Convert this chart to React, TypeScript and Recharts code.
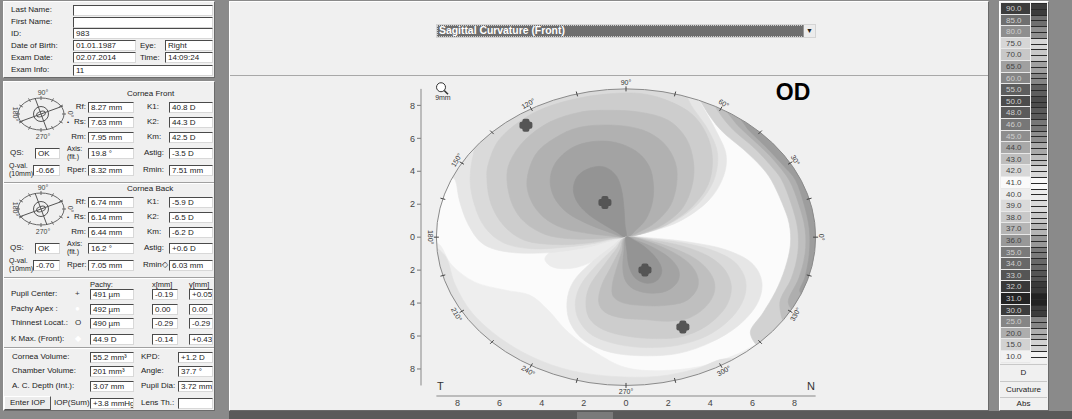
import React from 'react';
import { ScatterChart, Scatter, XAxis, YAxis } from 'recharts';

const FONT = "'Liberation Sans', Arial, sans-serif";

// map axes, in mm
const X_DOMAIN: [number, number] = [-9.73, 9.73];
const Y_DOMAIN: [number, number] = [-9.64, 9.6];
const X_TICKS = [-8, -6, -4, -2, 0, 2, 4, 6, 8];
const Y_TICKS = [-8, -6, -4, -2, 0, 2, 4, 6, 8];
const RIM_R = 9;
const RIM_TICK_ANGLES = [0, 15, 30, 45, 60, 75, 90, 105, 120, 135, 150, 165, 180, 195, 210, 225, 240, 255, 270, 285, 300, 315, 330, 345];
const RIM_LABEL_ANGLES = [0, 30, 60, 90, 120, 150, 180, 210, 240, 270, 300, 330];
const FRAME = [{ x: 0, y: 0 }, { x: RIM_R, y: RIM_R }];

// contour bands (x, y in mm)
const BL_1 = [[-8.83, -0.48], [-8.26, -1.7], [-7.17, -2.73], [-5.75, -3.21], [-4.56, -3.52], [-3.7, -4.42], [-2.75, -5.76], [-1.47, -6.97], [-0.05, -7.9], [1.61, -8.1], [3.51, -7.85], [5.18, -7.15], [6.36, -6.42], [6.6, -6.7], [4.0, -8.6], [1.0, -9.4], [-2.2, -9.2], [-5.2, -7.8], [-7.6, -5.3], [-8.9, -2.6], [-9.4, -0.3]];
const BL_2 = [[-9.3, -0.5], [-8.55, -1.2], [-8.1, -2.9], [-7.3, -4.6], [-6.0, -6.1], [-4.4, -7.3], [-2.6, -8.1], [-0.6, -8.45], [1.5, -8.45], [3.3, -8.0], [4.6, -7.4], [5.6, -7.6], [3.2, -8.9], [0, -9.45], [-3.2, -8.9], [-6.0, -7.1], [-8.0, -4.7], [-9.2, -1.6]];
const TONGUE = [[0, 0], [-1.2, -0.3], [-2.5, -0.55], [-3.5, -0.85], [-3.85, -1.35], [-3.4, -1.85], [-2.4, -1.85], [-1.3, -1.3], [-0.45, -0.5]];
const TL_1 = [[0, 0], [1.2, 0.35], [2.6, 1.0], [3.9, 2.2], [4.6, 3.6], [4.75, 5.0], [4.3, 6.4], [3.6, 8.0], [3.0, 9.3], [1.2, 9.45], [-1.5, 9.35], [-4.0, 8.5], [-6.1, 7.0], [-7.6, 5.2], [-8.5, 4.0], [-8.1, 3.45], [-7.9, 2.2], [-7.5, 0.8], [-6.8, -0.4], [-5.6, -0.9], [-3.8, -0.95], [-2.0, -0.65], [-0.8, -0.25]];
const TL_2 = [[0, 0], [1.0, 0.3], [2.2, 0.9], [3.4, 2.0], [4.15, 3.4], [4.35, 5.0], [3.95, 6.4], [3.2, 7.8], [2.3, 9.3], [0, 9.45], [-3.0, 9.0], [-5.4, 7.7], [-6.9, 6.1], [-7.25, 5.0], [-7.4, 3.45], [-7.2, 2.0], [-6.7, 0.6], [-5.8, -0.35], [-4.5, -0.7], [-3.0, -0.62], [-1.5, -0.38], [-0.6, -0.1]];
const TL_3 = [[0, 0], [0.9, 0.25], [2.0, 0.8], [3.1, 1.8], [3.9, 3.2], [4.1, 4.8], [3.8, 6.3], [3.0, 7.6], [1.5, 8.5], [0, 8.75], [-2.2, 8.45], [-4.3, 7.6], [-5.9, 6.1], [-6.5, 4.6], [-6.6, 3.45], [-6.4, 2.0], [-5.8, 0.7], [-4.8, -0.2], [-3.3, -0.45], [-1.8, -0.35], [-0.7, -0.1]];
const TL_4 = [[0, 0], [0.8, 0.25], [1.8, 0.8], [2.7, 1.8], [3.15, 3.2], [3.2, 4.6], [2.85, 6.0], [2.0, 7.1], [0.6, 7.6], [-1.0, 7.7], [-2.2, 7.58], [-3.6, 7.0], [-4.8, 5.9], [-5.5, 4.6], [-5.65, 3.45], [-5.4, 2.0], [-4.8, 0.9], [-3.8, 0.15], [-2.6, -0.1], [-1.4, -0.1], [-0.5, 0]];
const TL_5 = [[0, 0], [0.6, 0.3], [1.4, 0.9], [2.1, 1.9], [2.4, 3.2], [2.35, 4.5], [1.8, 5.7], [0.8, 6.5], [-0.6, 6.8], [-2.2, 6.67], [-3.4, 6.0], [-4.3, 5.0], [-4.7, 3.45], [-4.5, 2.2], [-3.9, 1.2], [-3.0, 0.55], [-1.9, 0.25], [-0.8, 0.08]];
const TL_6 = [[0, 0], [0.45, 0.4], [0.95, 1.1], [1.25, 2.1], [1.3, 3.2], [1.1, 4.3], [0.5, 5.2], [-0.5, 5.75], [-1.6, 5.8], [-2.6, 5.4], [-3.35, 4.5], [-3.6, 3.45], [-3.4, 2.4], [-2.8, 1.5], [-1.9, 0.85], [-0.9, 0.35]];
const TL_7 = [[0, 0], [-0.05, 0.8], [-0.1, 1.8], [-0.2, 2.8], [-0.45, 3.7], [-1.0, 4.25], [-1.7, 4.2], [-2.3, 3.7], [-2.5, 2.9], [-2.3, 2.1], [-1.8, 1.4], [-1.1, 0.8], [-0.5, 0.35]];
const BR_1 = [[0, 0], [-0.7, -0.6], [-1.7, -1.6], [-2.5, -2.7], [-2.8, -3.9], [-2.65, -5.2], [-1.95, -6.3], [-0.7, -7.0], [0.9, -7.2], [2.5, -7.05], [4.0, -6.4], [5.3, -5.4], [6.2, -4.1], [6.45, -2.75], [5.95, -1.55], [4.7, -0.75], [3.1, -0.32], [1.5, -0.08]];
const BR_2 = [[0, 0], [-0.55, -0.65], [-1.4, -1.7], [-2.1, -2.8], [-2.4, -3.9], [-2.25, -5.0], [-1.6, -5.95], [-0.4, -6.5], [1.0, -6.7], [2.5, -6.55], [3.9, -5.95], [5.0, -4.9], [5.6, -3.7], [5.65, -2.5], [5.1, -1.45], [4.0, -0.75], [2.6, -0.33], [1.2, -0.1]];
const BR_3 = [[0, 0], [-0.45, -0.7], [-1.1, -1.8], [-1.7, -2.9], [-1.9, -3.9], [-1.75, -4.9], [-1.1, -5.6], [0, -6.0], [1.3, -6.15], [2.6, -6.05], [3.8, -5.4], [4.7, -4.3], [5.0, -3.1], [4.7, -2.0], [3.9, -1.15], [2.7, -0.55], [1.3, -0.18]];
const BR_4 = [[0, 0], [-0.3, -0.8], [-0.75, -1.9], [-1.15, -2.9], [-1.3, -3.9], [-1.0, -4.55], [-0.2, -4.9], [0.9, -5.0], [2.0, -5.1], [3.0, -4.9], [3.8, -4.2], [4.2, -3.3], [4.1, -2.4], [3.5, -1.5], [2.5, -0.8], [1.2, -0.25]];
const BR_5 = [[0, 0], [-0.2, -0.9], [-0.45, -1.9], [-0.65, -2.9], [-0.6, -3.6], [-0.1, -4.0], [0.8, -4.15], [1.8, -4.15], [2.8, -3.9], [3.35, -3.2], [3.4, -2.4], [3.0, -1.6], [2.2, -0.9], [1.1, -0.3]];
const BR_6 = [[0, 0], [-0.1, -0.9], [-0.15, -1.9], [0, -2.7], [0.45, -3.2], [1.2, -3.4], [1.95, -3.25], [2.45, -2.7], [2.5, -2.0], [2.1, -1.3], [1.4, -0.7], [0.6, -0.25]];
const BR_7 = [[0, 0], [0.05, -0.9], [0.15, -1.8], [0.45, -2.5], [1.0, -2.8], [1.5, -2.6], [1.7, -2.0], [1.45, -1.3], [0.9, -0.6], [0.4, -0.2]];
const R_1 = [[3.4, 8.9], [3.7, 7.9], [4.5, 6.5], [5.6, 5.3], [6.4, 4.3], [6.9, 3.45], [7.4, 2.1], [7.75, 0.8], [7.8, -0.5], [7.55, -1.9], [7.1, -3.3], [6.5, -4.6], [5.9, -5.8], [6.6, -6.7], [8.0, -4.9], [9.1, -2.2], [9.4, 0.5], [9.0, 2.9], [7.9, 5.1], [6.0, 7.3], [4.6, 8.4]];
const R_2 = [[4.1, 8.4], [4.45, 7.5], [5.1, 6.5], [6.1, 5.4], [6.9, 4.3], [7.4, 3.45], [7.85, 2.0], [8.15, 0.5], [8.15, -1.0], [7.85, -2.5], [7.3, -4.0], [7.7, -5.4], [8.7, -3.4], [9.35, -0.8], [9.2, 2.0], [8.3, 4.4], [6.6, 6.6], [5.2, 7.8]];
const R_3 = [[4.7, 8.0], [5.1, 7.1], [5.55, 6.48], [6.3, 5.6], [7.0, 4.7], [7.75, 3.45], [8.2, 2.0], [8.5, 0.5], [8.5, -1.0], [8.2, -2.5], [7.7, -3.9], [8.2, -4.4], [9.05, -2.2], [9.35, 0.3], [9.1, 2.4], [8.1, 4.7], [6.6, 6.7]];
const R_4 = [[5.3, 7.6], [5.65, 6.8], [5.9, 6.4], [6.7, 5.4], [7.5, 4.3], [8.05, 3.45], [8.45, 2.0], [8.7, 0.5], [8.7, -1.0], [8.5, -2.4], [8.25, -3.3], [8.8, -3.5], [9.35, -1.0], [9.3, 1.5], [8.5, 4.0], [7.2, 6.1]];

const BAND_NAMES = ['bl1', 'bl2', 'tongue', 'tl1', 'tl2', 'tl3', 'tl4', 'tl5', 'tl6', 'tl7', 'br1', 'br2', 'br3', 'br4', 'br5', 'br6', 'br7', 'r1', 'r2', 'r3', 'r4'];
const BAND_COLORS = ['#eeeeee', '#e2e2e2', '#ececec', '#e6e6e6', '#dadada', '#cdcdcd', '#bfbfbf', '#b1b1b1', '#a3a3a3', '#949494', '#e6e6e6', '#dadada', '#cdcdcd', '#bfbfbf', '#b1b1b1', '#a3a3a3', '#949494', '#d2d2d2', '#bfbfbf', '#aeaeae', '#9d9d9d'];
const BAND_POINTS = [BL_1, BL_2, TONGUE, TL_1, TL_2, TL_3, TL_4, TL_5, TL_6, TL_7, BR_1, BR_2, BR_3, BR_4, BR_5, BR_6, BR_7, R_1, R_2, R_3, R_4];

const MARKERS = [{ x: -4.75, y: 6.8 }, { x: -1.0, y: 2.1 }, { x: 0.9, y: -2.0 }, { x: 2.7, y: -5.45 }];

const ANNOTATIONS = [
  { x: -8.78, y: 9.1, kind: 'lens', text: '' },
  { x: -8.69, y: 8.48, kind: 'text', text: '9mm', size: 7, anchor: 'middle' },
  { x: 7.93, y: 8.8, kind: 'text', text: 'OD', size: 23, anchor: 'middle' },
  { x: -8.97, y: -9.03, kind: 'text', text: 'T', size: 11, anchor: 'start' },
  { x: 8.97, y: -9.03, kind: 'text', text: 'N', size: 11, anchor: 'end' },
];

// colour scale on the right
const SCALE_LABELS = ['90.0', '85.0', '80.0', '75.0', '70.0', '65.0', '60.0', '55.0', '50.0', '48.0', '46.0', '45.0', '44.0', '43.0', '42.0', '41.0', '40.0', '39.0', '38.0', '37.0', '36.0', '35.0', '34.0', '33.0', '32.0', '31.0', '30.0', '25.0', '20.0', '15.0', '10.0'];
const SCALE_COLORS = ['#3d3d3d', '#6f6f6f', '#8e8e8e', '#d6d6d6', '#c8c8c8', '#a0a0a0', '#858585', '#5e5e5e', '#4c4c4c', '#5a5a5a', '#777777', '#8e8e8e', '#a8a8a8', '#bebebe', '#d8d8d8', '#fafafa', '#ededed', '#dadada', '#c8c8c8', '#b5b5b5', '#989898', '#7a7a7a', '#686868', '#555555', '#393939', '#232323', '#3c3c3c', '#858585', '#adadad', '#d2d2d2', '#f2f2f2'];

// left panel content
const PATIENT_LABELS: [string, number, number][] = [
  ['Last Name:', 11, 10], ['First Name:', 11, 22], ['ID:', 11, 33.5], ['Date of Birth:', 11, 45.5],
  ['Exam Date:', 11, 57.5], ['Exam Info:', 11, 70], ['Eye:', 140, 45.5], ['Time:', 140, 57.5],
];
const PATIENT_FIELDS: [string, number, number, number][] = [
  ['', 73, 10, 140], ['', 73, 22, 140], ['983', 73, 33.5, 140], ['01.01.1987', 73, 45.5, 63],
  ['Right', 165, 45.5, 48], ['02.07.2014', 73, 57.5, 63], ['14:09:24', 165, 57.5, 48], ['11', 73, 70, 140],
];
const FRONT_VALUES = ['8.27 mm', '7.63 mm', '7.95 mm', '40.8 D', '44.3 D', '42.5 D', 'OK', '19.8 °', '-3.5 D', '-0.66', '8.32 mm', '7.51 mm'];
const BACK_VALUES = ['6.74 mm', '6.14 mm', '6.44 mm', '-5.9 D', '-6.5 D', '-6.2 D', 'OK', '16.2 °', '+0.6 D', '-0.70', '7.05 mm', '6.03 mm'];
const PACHY_ROWS = ['Pupil Center:', 'Pachy Apex :', 'Thinnest Locat.:', 'K Max. (Front):'];
const PACHY_ICONS = ['+', '●', 'O', '◆'];
const PACHY_ICON_COLORS = ['#333', '#fff', '#333', '#fff'];
const PACHY_VALUES = ['491 µm', '492 µm', '490 µm', '44.9 D'];
const PACHY_X = ['-0.19', '0.00', '-0.29', '-0.14'];
const PACHY_Y = ['+0.05', '0.00', '-0.29', '+0.43'];
const VOLUME_ROWS = ['Cornea Volume:', 'Chamber Volume:', 'A. C. Depth (Int.):'];
const VOLUME_VALUES = ['55.2 mm³', '201 mm³', '3.07 mm'];
const EXTRA_LABELS = ['KPD:', 'Angle:', 'Pupil Dia:'];
const EXTRA_VALUES = ['+1.2 D', '37.7 °', '3.72 mm'];

const toPts = (a: number[][]) => a.map(([x, y]) => ({ x, y }));

function closedPath(pts: { x: number; y: number }[]) {
  const n = pts.length;
  let d = `M${pts[0].x},${pts[0].y}`;
  for (let i = 0; i < n; i++) {
    const p0 = pts[(i - 1 + n) % n];
    const p1 = pts[i];
    const p2 = pts[(i + 1) % n];
    const p3 = pts[(i + 2) % n];
    const c1x = p1.x + (p2.x - p0.x) / 6;
    const c1y = p1.y + (p2.y - p0.y) / 6;
    const c2x = p2.x - (p3.x - p1.x) / 6;
    const c2y = p2.y - (p3.y - p1.y) / 6;
    d += `C${c1x},${c1y},${c2x},${c2y},${p2.x},${p2.y}`;
  }
  return d + 'Z';
}

const NoDot = () => <g />;

function geom(points: { x: number; y: number }[]) {
  const c = points[0];
  const e = points[1];
  const kx = (e.x - c.x) / RIM_R;
  const ky = (c.y - e.y) / RIM_R;
  return {
    cx: c.x, cy: c.y, rx: RIM_R * kx, ry: RIM_R * ky,
    px: (x: number) => c.x + x * kx,
    py: (y: number) => c.y - y * ky,
  };
}

function FrameBack(props: any) {
  const g = geom(props.points);
  return <ellipse cx={g.cx} cy={g.cy} rx={g.rx} ry={g.ry} fill="#fbfbfb" />;
}

function FrameFront(props: any) {
  const g = geom(props.points);
  const L = g.px(X_DOMAIN[0]);
  const R = g.px(X_DOMAIN[1]);
  const T = g.py(Y_DOMAIN[1]);
  const B = g.py(Y_DOMAIN[0]);
  const mask =
    `M${L},${T}H${R}V${B}H${L}Z` +
    `M${g.cx + g.rx},${g.cy}A${g.rx},${g.ry} 0 1 0 ${g.cx - g.rx},${g.cy}A${g.rx},${g.ry} 0 1 0 ${g.cx + g.rx},${g.cy}Z`;
  return (
    <g>
      <path d={mask} fill="#f0f0f0" fillRule="evenodd" />
      <ellipse cx={g.cx} cy={g.cy} rx={g.rx} ry={g.ry} fill="none" stroke="#8a8a8a" strokeWidth={1} />
      {RIM_TICK_ANGLES.map((a) => {
        const t = (a * Math.PI) / 180;
        const x = g.cx + g.rx * Math.cos(t);
        const y = g.cy - g.ry * Math.sin(t);
        const dx = Math.cos(t) * 2.5;
        const dy = -Math.sin(t) * 2.5;
        return <line key={a} x1={x - dx} y1={y - dy} x2={x + dx} y2={y + dy} stroke="#444" strokeWidth={1} />;
      })}
      {RIM_LABEL_ANGLES.map((a) => {
        const t = (a * Math.PI) / 180;
        const x = g.cx + g.rx * Math.cos(t) + Math.cos(t) * 6;
        const y = g.cy - g.ry * Math.sin(t) - Math.sin(t) * 6;
        const rot = a < 180 ? 90 - a : 270 - a;
        return (
          <text key={a} x={x} y={y} fontSize={7} fill="#333" fontFamily={FONT} textAnchor="middle" dominantBaseline="central" transform={`rotate(${rot} ${x} ${y})`}>
            {`${a}°`}
          </text>
        );
      })}
      <line x1={L} y1={g.py(-RIM_R)} x2={L} y2={g.py(RIM_R)} stroke="#888" />
      <line x1={g.px(-RIM_R)} y1={B} x2={g.px(RIM_R)} y2={B} stroke="#888" />
    </g>
  );
}

function Marker(p: any) {
  const { cx, cy } = p;
  return (
    <g fill="#555">
      <rect x={cx - 6.5} y={cy - 3.5} width={13} height={7} rx={2} />
      <rect x={cx - 3.5} y={cy - 6.5} width={7} height={13} rx={2} />
      <circle cx={cx} cy={cy} r={5} />
    </g>
  );
}

function Annotation(p: any) {
  const { cx, cy, payload } = p;
  if (payload.kind === 'lens') {
    return (
      <g stroke="#333" fill="none">
        <circle cx={cx} cy={cy} r={4.5} fill="#fff" />
        <line x1={cx + 3.2} y1={cy + 3.2} x2={cx + 7} y2={cy + 7} strokeWidth={1.5} />
      </g>
    );
  }
  const od = payload.text === 'OD';
  return (
    <text x={cx} y={cy} fontSize={payload.size} fontFamily={FONT} fontWeight={od ? 'bold' : 'normal'} fill={od ? '#000' : '#333'} textAnchor={payload.anchor} dominantBaseline="central">
      {payload.text}
    </text>
  );
}

function MapChart() {
  const tick = { fontSize: 9, fill: '#444', fontFamily: FONT };
  return (
    <ScatterChart width={759} height={340} margin={{ top: 9, right: 157, bottom: 0, left: 168 }}>
      <XAxis type="number" dataKey="x" domain={X_DOMAIN} ticks={X_TICKS} interval={0} height={14}
        tickFormatter={(v: number) => String(Math.abs(v))} axisLine={false} tickLine={false}
        tickSize={2} tickMargin={2} tick={tick} />
      <YAxis type="number" dataKey="y" domain={Y_DOMAIN} ticks={Y_TICKS} interval={0} width={24}
        tickFormatter={(v: number) => String(Math.abs(v))} axisLine={false}
        tickLine={{ stroke: '#777' }} tickSize={4} tickMargin={2} tick={tick} />
      <Scatter data={FRAME} shape={NoDot} line={FrameBack} isAnimationActive={false} />
      {BAND_NAMES.map((name, i) => (
        <Scatter
          key={name}
          name={name}
          data={toPts(BAND_POINTS[i])}
          shape={NoDot}
          line={(p: any) => <path d={closedPath(p.points)} fill={BAND_COLORS[i]} stroke={BAND_COLORS[i]} strokeWidth={0.6} />}
          isAnimationActive={false}
        />
      ))}
      <Scatter data={FRAME} shape={NoDot} line={FrameFront} isAnimationActive={false} />
      <Scatter data={MARKERS} shape={Marker} isAnimationActive={false} />
      <Scatter data={ANNOTATIONS} shape={Annotation} isAnimationActive={false} />
    </ScatterChart>
  );
}

function Field({ x, y, w, v }: { x: number; y: number; w: number; v: string }) {
  return (
    <div style={{
      position: 'absolute', left: x, top: y - 5.5, width: w, height: 11, background: '#fff',
      borderTop: '1px solid #4a4a4a', borderLeft: '1px solid #4a4a4a', borderBottom: '1px solid #d8d8d8',
      borderRight: '1px solid #d8d8d8', boxSizing: 'border-box', fontSize: 8, lineHeight: '9px',
      paddingLeft: 2, whiteSpace: 'nowrap', overflow: 'hidden', color: '#222',
    }}>{v}</div>
  );
}

function Label({ x, y, t, size = 8, color = '#222', right }: { x: number; y: number; t: string; size?: number; color?: string; right?: boolean }) {
  return (
    <div style={{
      position: 'absolute', left: right ? undefined : x, right: right ? 1072 - x : undefined, top: y - 5,
      fontSize: size, lineHeight: '10px', whiteSpace: 'nowrap', color,
    }}>{t}</div>
  );
}

function Compass({ x, y }: { x: number; y: number }) {
  const cx = 31;
  const cy = 32;
  return (
    <svg style={{ position: 'absolute', left: x, top: y }} width={64} height={64}>
      <ellipse cx={cx} cy={cy} rx={23} ry={16} fill="none" stroke="#666" />
      {[0, 30, 60, 90, 120, 150, 180, 210, 240, 270, 300, 330].map((a) => {
        const t = (a * Math.PI) / 180;
        return <line key={a} x1={cx + 21 * Math.cos(t)} y1={cy - 14 * Math.sin(t)} x2={cx + 25 * Math.cos(t)} y2={cy - 18 * Math.sin(t)} stroke="#666" />;
      })}
      <circle cx={cx} cy={cy} r={7.5} fill="none" stroke="#555" />
      <ellipse cx={cx} cy={cy} rx={4.5} ry={2.5} fill="none" stroke="#555" transform={`rotate(-20 ${cx} ${cy})`} />
      <line x1={cx - 22} y1={cy + 8} x2={cx + 22} y2={cy - 8} stroke="#555" />
      <line x1={cx - 6} y1={cy - 16} x2={cx + 6} y2={cy + 16} stroke="#555" />
      <text x={cx + 2} y={cy - 19} fontSize={7} fill="#444" textAnchor="middle" fontFamily={FONT}>90°</text>
      <text x={cx + 2} y={cy + 25} fontSize={7} fill="#444" textAnchor="middle" fontFamily={FONT}>270°</text>
      <text x={3} y={cy} fontSize={7} fill="#444" textAnchor="middle" fontFamily={FONT} transform={`rotate(90 3 ${cy})`}>180°</text>
      <text x={58} y={cy} fontSize={7} fill="#444" textAnchor="middle" fontFamily={FONT} transform={`rotate(90 58 ${cy})`}>0°</text>
    </svg>
  );
}

function CorneaBlock({ top, title, titleX, values, rmin }: { top: number; title: string; titleX: number; values: string[]; rmin: string }) {
  const rows = [top + 13, top + 28, top + 43];
  const qs = top + 59;
  const qv = top + 76;
  return (
    <>
      <Compass x={10} y={top - 12} />
      <Label x={titleX} y={top} t={title} />
      {['Rf:', 'Rs:', 'Rm:'].map((t, i) => <Label key={t} x={86} y={rows[i]} t={t} right />)}
      <Label x={67} y={rows[1]} t="•" size={6} />
      {['K1:', 'K2:', 'Km:'].map((t, i) => <Label key={t} x={147} y={rows[i]} t={t} />)}
      {rows.map((r, i) => <Field key={'a' + i} x={88} y={r} w={46} v={values[i]} />)}
      {rows.map((r, i) => <Field key={'b' + i} x={169} y={r} w={44} v={values[3 + i]} />)}
      <Label x={10} y={qs} t="QS:" />
      <Field x={35} y={qs} w={25} v={values[6]} />
      <Label x={67} y={qs - 4} t="Axis:" size={7} />
      <Label x={67} y={qs + 4} t="(flt.)" size={7} />
      <Field x={88} y={qs} w={46} v={values[7]} />
      <Label x={144} y={qs} t="Astig:" />
      <Field x={169} y={qs} w={44} v={values[8]} />
      <Label x={9} y={qv - 4} t="Q-val." size={7} />
      <Label x={9} y={qv + 4} t="(10mm)" size={7} />
      <Field x={33} y={qv} w={27} v={values[9]} />
      <Label x={67} y={qv} t="Rper:" />
      <Field x={88} y={qv} w={46} v={values[10]} />
      <Label x={143} y={qv} t={rmin} />
      <Field x={169} y={qv} w={44} v={values[11]} />
    </>
  );
}

const groove = (y: number) => (
  <div key={y} style={{ position: 'absolute', left: 4, top: y, width: 210, height: 1, background: '#a0a0a0', borderBottom: '1px solid #fff' }} />
);

const box: React.CSSProperties = {
  position: 'absolute', background: '#f0f0f0', boxSizing: 'border-box',
  borderTop: '1px solid #fff', borderLeft: '1px solid #fff', borderBottom: '1px solid #6a6a6a', borderRight: '1px solid #6a6a6a',
};

function LeftPanel() {
  const pachyRows = [294, 309, 323, 339];
  const volRows = [357, 371, 386];
  return (
    <>
      <div style={{ ...box, left: 3, top: 1, width: 212, height: 77 }} />
      {PATIENT_LABELS.map(([t, x, y]) => <Label key={t} x={x} y={y} t={t} />)}
      {PATIENT_FIELDS.map(([v, x, y, w], i) => <Field key={i} x={x} y={y} w={w} v={v} />)}
      <div style={{ ...box, left: 3, top: 81, width: 212, height: 330 }} />
      <CorneaBlock top={94} title="Cornea Front" titleX={127} values={FRONT_VALUES} rmin="Rmin:" />
      {groove(182)}
      <CorneaBlock top={189} title="Cornea Back" titleX={127} values={BACK_VALUES} rmin="Rmin◇" />
      {groove(277)}
      <Label x={90} y={285} t="Pachy:" size={7.5} />
      <Label x={152} y={285} t="x[mm]" size={7.5} />
      <Label x={189} y={285} t="y[mm]" size={7.5} />
      {PACHY_ROWS.map((t, i) => <Label key={t} x={11} y={pachyRows[i]} t={t} />)}
      {PACHY_ICONS.map((t, i) => <Label key={i} x={75} y={pachyRows[i]} t={t} color={PACHY_ICON_COLORS[i]} />)}
      {pachyRows.map((r, i) => <Field key={'p' + i} x={90} y={r} w={44} v={PACHY_VALUES[i]} />)}
      {pachyRows.map((r, i) => <Field key={'x' + i} x={152} y={r} w={26} v={PACHY_X[i]} />)}
      {pachyRows.map((r, i) => <Field key={'y' + i} x={189} y={r} w={24} v={PACHY_Y[i]} />)}
      {groove(347)}
      {VOLUME_ROWS.map((t, i) => <Label key={t} x={12} y={volRows[i]} t={t} />)}
      {volRows.map((r, i) => <Field key={'v' + i} x={90} y={r} w={44} v={VOLUME_VALUES[i]} />)}
      {EXTRA_LABELS.map((t, i) => <Label key={t} x={141} y={volRows[i]} t={t} />)}
      {volRows.map((r, i) => <Field key={'e' + i} x={178} y={r} w={35} v={EXTRA_VALUES[i]} />)}
      <div style={{
        position: 'absolute', left: 4, top: 396, width: 47, height: 14, boxSizing: 'border-box', background: '#ececec',
        borderTop: '1px solid #fff', borderLeft: '1px solid #fff', borderBottom: '1px solid #555', borderRight: '1px solid #555',
        fontSize: 8, lineHeight: '12px', textAlign: 'center', color: '#222',
      }}>Enter IOP</div>
      <Label x={54} y={403} t="IOP(Sum)" />
      <Field x={90} y={403} w={44} v="+3.8 mmHg" />
      <Label x={141} y={403} t="Lens Th.:" />
      <Field x={178} y={403} w={35} v="" />
    </>
  );
}

function ScalePanel() {
  const h = 11.6;
  return (
    <>
      <div style={{ ...box, left: 999, top: 1, width: 50, height: 410 }} />
      {SCALE_LABELS.map((t, i) => {
        const lum = parseInt(SCALE_COLORS[i].slice(1, 3), 16);
        return (
          <React.Fragment key={t}>
            <div style={{
              position: 'absolute', left: 1001, top: 3 + i * h, width: 29, height: h, background: SCALE_COLORS[i],
              boxSizing: 'border-box', borderBottom: '1px solid #e8e8e8', fontSize: 8, lineHeight: `${h}px`,
              paddingLeft: 5, color: lum < 0x95 ? '#cfcfcf' : '#444',
            }}>{t}</div>
            <div style={{ position: 'absolute', left: 1031, top: 3 + i * h, width: 16, height: h, background: SCALE_COLORS[i] }}>
              <div style={{ position: 'absolute', left: 0, top: 0, width: 16, height: 1, background: '#2a2a2a' }} />
              <div style={{ position: 'absolute', left: 0, top: h / 2, width: 16, height: 1, background: '#2a2a2a' }} />
            </div>
          </React.Fragment>
        );
      })}
      {[['D', 364, 16], ['Curvature', 381, 16], ['Abs', 397, 13]].map(([t, y, hh]) => (
        <div key={t as string} style={{
          position: 'absolute', left: 1000, top: y as number, width: 47, height: hh as number, boxSizing: 'border-box',
          borderTop: '1px solid #c8c8c8', fontSize: 8, lineHeight: `${(hh as number) - 1}px`, textAlign: 'center', color: '#222',
        }}>{t}</div>
      ))}
    </>
  );
}

export default function App() {
  return (
    <div style={{ position: 'absolute', left: 0, top: 0, width: 1072, height: 419, overflow: 'hidden', background: '#8a8a8a', fontFamily: FONT }}>
      <LeftPanel />
      <div style={{ ...box, left: 229, top: 1, width: 760, height: 410 }} />
      <div style={{ position: 'absolute', left: 230, top: 75, width: 758, height: 1, background: '#a8a8a8' }} />
      <div style={{ position: 'absolute', left: 436, top: 24, width: 380, height: 14, background: '#6e6e6e', border: '1px solid #d4d4d4', boxSizing: 'border-box' }}>
        <div style={{ position: 'absolute', left: 1, top: 1, width: 364, height: 10, outline: '1px dotted #cfcfcf', color: '#fff', fontSize: 10.4, fontWeight: 'bold', lineHeight: '10px', paddingLeft: 1, whiteSpace: 'nowrap' }}>
          Sagittal Curvature (Front)
        </div>
        <div style={{ position: 'absolute', right: 0, top: 0, width: 11, height: 12, background: '#ececec', borderLeft: '1px solid #999', fontSize: 7, lineHeight: '12px', textAlign: 'center', color: '#222' }}>▼</div>
      </div>
      <div style={{ position: 'absolute', left: 229, top: 70 }}>
        <MapChart />
      </div>
      <ScalePanel />
      <div style={{ position: 'absolute', left: 229, top: 411, width: 843, height: 8, background: '#5a5a5a' }} />
      <div style={{ position: 'absolute', left: 577, top: 412, width: 36, height: 7, background: '#7a7a7a' }} />
    </div>
  );
}
